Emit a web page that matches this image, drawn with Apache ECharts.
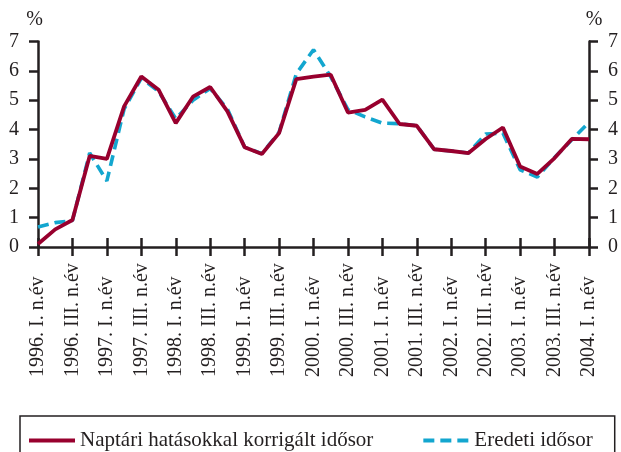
<!DOCTYPE html>
<html>
<head>
<meta charset="utf-8">
<script src="https://cdn.jsdelivr.net/npm/echarts@6/dist/echarts.min.js"></script>
<style>
  html, body { margin: 0; padding: 0; background: #ffffff; }
  #chart { width: 621px; height: 452px; }
</style>
</head>
<body>
<div id="chart"></div>
<script>
// Quarterly periods, 1996 Q1 – 2004 Q1
const years = [1996, 1997, 1998, 1999, 2000, 2001, 2002, 2003, 2004];
const quarterNames = ['I.', 'II.', 'III.', 'IV.'];
const categories = [];
years.forEach(function (y) {
  quarterNames.forEach(function (q) {
    if (categories.length < 33) categories.push(y + '. ' + q + ' n.év');
  });
});

// Calendar-adjusted series (%)
const adjustedSeries = [0.1, 0.6, 0.92, 3.1, 3.0, 4.79, 5.81, 5.36, 4.22, 5.12, 5.45, 4.62, 3.4,
  3.17, 3.88, 5.72, 5.8, 5.87, 4.58, 4.67, 5.02, 4.19, 4.13, 3.33, 3.27, 3.2, 3.68, 4.07,
  2.74, 2.49, 3.03, 3.68, 3.67];

// Original series (%)
const originalSeries = [0.68, 0.83, 0.9, 3.2, 2.25, 4.7, 5.75, 5.3, 4.37, 5.0, 5.4, 4.7, 3.4,
  3.18, 3.9, 5.9, 6.72, 5.8, 4.68, 4.43, 4.22, 4.2, 4.13, 3.33, 3.27, 3.2, 3.85, 3.88,
  2.63, 2.38, 3.05, 3.65, 4.25];

const yTicks = { min: 0, max: 7, interval: 1 };

const ink = '#231f20';
const font = 'Liberation Serif';
const fs = 20;
const red = '#98002e';
const blue = '#13a6cf';

const chart = echarts.init(document.getElementById('chart'), null, { renderer: 'canvas' });

const yAxisBase = {
  type: 'value',
  min: yTicks.min,
  max: yTicks.max,
  interval: yTicks.interval,
  splitLine: { show: false },
  axisLine: { show: true, lineStyle: { color: ink, width: 2.5 } },
  axisTick: { show: true, inside: false, length: 9, lineStyle: { color: ink, width: 2.5 } },
  axisLabel: { color: ink, fontFamily: font, fontSize: fs, margin: 19 },
  name: '%',
  nameLocation: 'end',
  nameGap: 12,
  nameTextStyle: { color: ink, fontFamily: font, fontSize: fs }
};

chart.setOption({
  animation: false,
  backgroundColor: '#ffffff',
  grid: { left: 38, right: 29, top: 41.5, height: 205.5, containLabel: false },
  xAxis: [
    {
      type: 'category',
      data: categories,
      boundaryGap: false,
      position: 'bottom',
      axisLine: { show: true, onZero: false, lineStyle: { color: ink, width: 2.5 } },
      axisTick: { show: true, inside: false, length: 9, interval: 1, lineStyle: { color: ink, width: 2.5 } },
      axisLabel: {
        interval: 1,
        rotate: 90,
        align: 'left',
        margin: 130,
        color: ink,
        fontFamily: font,
        fontSize: fs
      },
      splitLine: { show: false }
    },
    {
      // companion axis drawing the inner half of each tick
      type: 'category',
      data: categories,
      boundaryGap: false,
      position: 'bottom',
      offset: 0,
      axisLine: { show: false, onZero: false },
      axisTick: { show: true, inside: true, length: 9, interval: 1, lineStyle: { color: ink, width: 2.5 } },
      axisLabel: { show: false },
      splitLine: { show: false }
    }
  ],
  yAxis: [
    Object.assign({}, yAxisBase, {
      position: 'left',
      nameTextStyle: Object.assign({}, yAxisBase.nameTextStyle, { padding: [0, 7, 0, 0] })
    }),
    Object.assign({}, yAxisBase, {
      position: 'right',
      nameTextStyle: Object.assign({}, yAxisBase.nameTextStyle, { padding: [0, 0, 0, 10] })
    })
  ],
  legend: {
    left: 20,
    top: 416,
    orient: 'horizontal',
    data: ['Naptári hatásokkal korrigált idősor', 'Eredeti idősor'],
    itemWidth: 46,
    itemHeight: 14,
    itemGap: 48,
    borderColor: ink,
    borderWidth: 1.5,
    borderRadius: 0,
    padding: [14, 22, 14, 7],
    itemStyle: { opacity: 0 },
    lineStyle: { width: 4 },
    textStyle: { color: ink, fontFamily: font, fontSize: 21 }
  },
  series: [
    {
      name: 'Eredeti idősor',
      type: 'line',
      data: originalSeries,
      xAxisIndex: 0,
      yAxisIndex: 0,
      symbol: 'none',
      z: 2,
      lineStyle: { color: blue, width: 3.6, type: [11, 6] },
      itemStyle: { color: blue }
    },
    {
      name: 'Naptári hatásokkal korrigált idősor',
      type: 'line',
      data: adjustedSeries,
      xAxisIndex: 0,
      yAxisIndex: 0,
      symbol: 'none',
      z: 3,
      lineStyle: { color: red, width: 3.8 },
      itemStyle: { color: red }
    }
  ]
});
</script>
</body>
</html>
